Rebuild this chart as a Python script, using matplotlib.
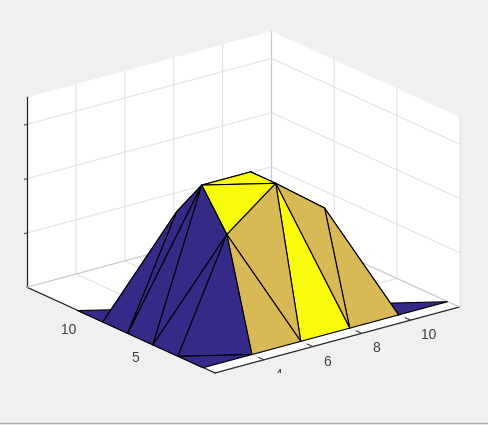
import matplotlib
matplotlib.use('Agg')
import matplotlib.pyplot as plt
from matplotlib.lines import Line2D
from matplotlib.transforms import Bbox
from mpl_toolkits.mplot3d.art3d import Poly3DCollection

plt.rcParams['font.family'] = ['Liberation Sans', 'DejaVu Sans']

# Surface nodes, the mesh only covers the triangle below the diagonal
x_vals = [2, 4, 6, 8, 10, 12]
y_vals = [1, 3, 5, 7, 9, 11]
z_vals = [
    [0, 0.0, 0.0, 0.0, 0, 0],
    [0, 2.0, 2.7, 2.0, 0],
    [0, 2.7, 2.7, 0.0],
    [0, 2.0, 0.0],
    [0, 0.0],
    [0],
]

# Colour level of each triangle, per grid cell (0 blue, 1 tan, 2 yellow)
lower_levels = [
    [0, 1, 2, 1, 0],
    [0, 2, 2, 0],
    [0, 1, 0],
    [0, 0],
    [0],
]
upper_levels = [
    [0, 1, 1, 0],
    [0, 2, 1],
    [0, 1],
    [0],
]
level_colors = ['#352A87', '#D9B955', '#F9FB0E']

x_ticks = [4, 6, 8, 10]
x_labels = ['4', '6', '8', '10']
y_ticks = [5, 10]
y_labels = ['5', '10']
z_ticks = [1, 2, 3]

bg = '#F0F0F0'
grid_col = '#E3E3E3'
edge_col = '#CACACA'

fig = plt.figure(figsize=(4.88, 4.25), dpi=100, facecolor=bg)
ax = fig.add_axes([3.45 / 488, -16.9 / 425, 467 / 488, 467 / 425],
                  projection='3d', proj_type='ortho', computed_zorder=False)
ax.set_facecolor('none')
ax.view_init(elev=20.54, azim=-127.58)
ax.set_box_aspect((308.5, 308.3, 202.9))
ax.set_xlim(2, 12)
ax.set_ylim(0, 15)
ax.set_zlim(0, 3.5)


def add_tri(pts, level, order):
    # one collection per triangle, so the far cells can be painted first
    tri = Poly3DCollection([pts], facecolors=level_colors[level], edgecolors='black',
                           linewidths=0.8, zorder=order)
    ax.add_collection3d(tri)


for j, row in enumerate(lower_levels):
    for i, level in enumerate(row):
        add_tri([(x_vals[i], y_vals[j], z_vals[j][i]),
                 (x_vals[i + 1], y_vals[j], z_vals[j][i + 1]),
                 (x_vals[i], y_vals[j + 1], z_vals[j + 1][i])],
                level, 30 - 2 * (i + j))
for j, row in enumerate(upper_levels):
    for i, level in enumerate(row):
        add_tri([(x_vals[i], y_vals[j + 1], z_vals[j + 1][i]),
                 (x_vals[i + 1], y_vals[j], z_vals[j][i + 1]),
                 (x_vals[i + 1], y_vals[j + 1], z_vals[j + 1][i + 1])],
                level, 29 - 2 * (i + j))

# Axes styling
ax.set_xticks(x_ticks)
ax.set_xticklabels(x_labels)
ax.set_yticks(y_ticks)
ax.set_yticklabels(y_labels)
ax.set_zticks(z_ticks)
ax.set_zticklabels([])
ax.tick_params(axis='both', labelsize=10, labelcolor='#404040', color='#404040')
ax.tick_params(axis='x', pad=1.5)
ax.tick_params(axis='y', pad=1.5)

for tick in ax.xaxis.get_major_ticks():
    tick.label1.set_ha('left')
    tick.label1.set_va('center')
for tick in ax.yaxis.get_major_ticks():
    tick.label1.set_ha('right')
    tick.label1.set_va('center')

for axis in (ax.xaxis, ax.yaxis, ax.zaxis):
    axis.set_pane_color((1, 1, 1, 1))
    axis.pane.set_edgecolor('none')
    axis.line.set_color('#262626')
    axis.line.set_linewidth(0.9)
    axis._axinfo['grid'].update(color=grid_col, linewidth=0.8)
    axis._axinfo['tick'].update(inward_factor=0.0, outward_factor=0.35)
ax.zaxis._axinfo['tick'].update(inward_factor=0.12, outward_factor=0.0)

# Back edges of the box
ax.plot([12, 12], [15, 15], [0, 3.5], color=edge_col, lw=0.9, zorder=1)
ax.plot([12, 12], [0, 0], [0, 3.5], color=grid_col, lw=0.9, zorder=1)
ax.plot([2, 12], [15, 15], [0, 0], color=edge_col, lw=0.9, zorder=1)
ax.plot([12, 12], [0, 15], [0, 0], color=edge_col, lw=0.9, zorder=1)

# The 4 label is cut off in the original
lab4 = ax.xaxis.get_major_ticks()[0].label1
lab4.set_clip_on(True)
lab4.set_clip_box(Bbox([[0, 52], [488, 425]]))

# Window border at the bottom
fig.add_artist(Line2D([0, 1], [1.6 / 425, 1.6 / 425], color='#ABABAB', lw=1.0))

fig.savefig('out.png', dpi=100, facecolor=bg)
